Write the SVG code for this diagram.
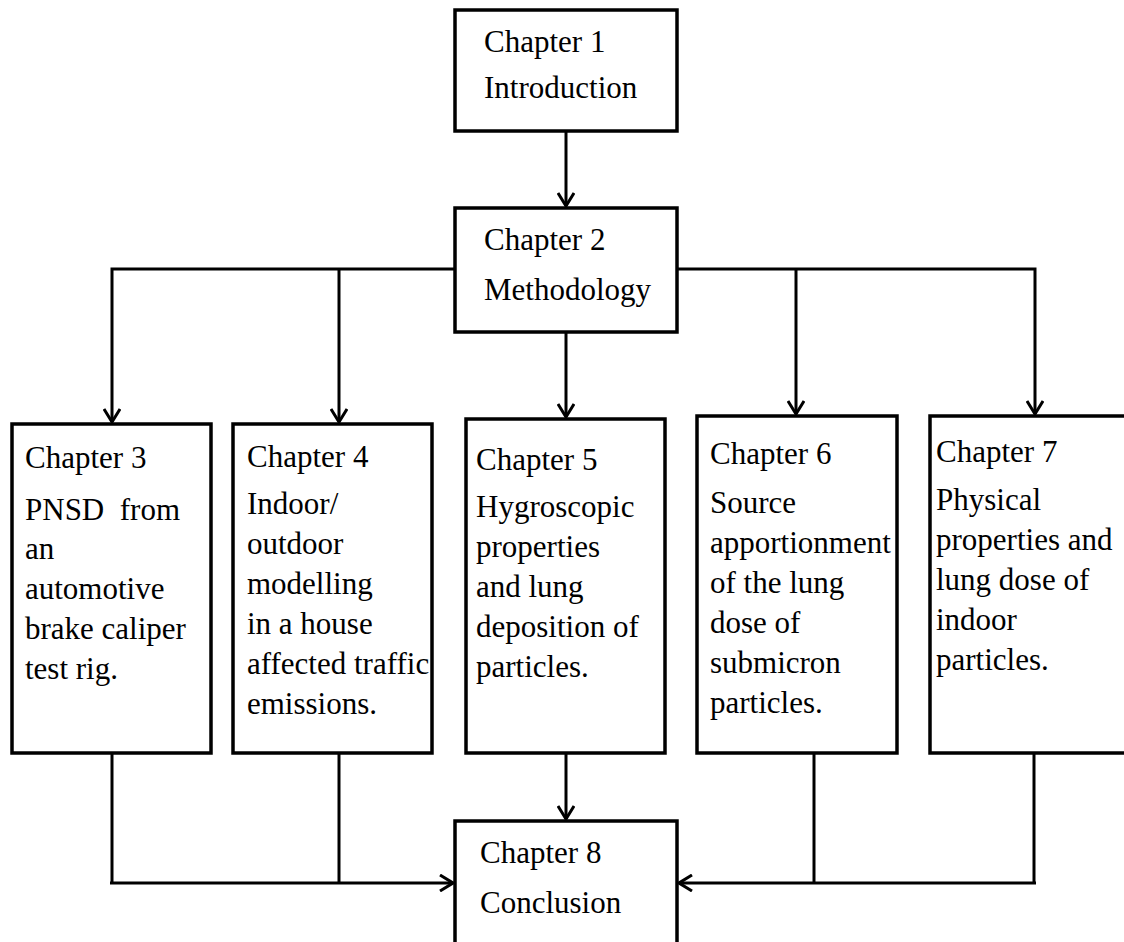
<svg xmlns="http://www.w3.org/2000/svg" width="1124" height="942" viewBox="0 0 1124 942">
<style>
.box{fill:#fff;stroke:#000;stroke-width:3.5}
.t{font-family:"Liberation Serif","Times New Roman",serif;font-size:31px;fill:#000}
.c{fill:none;stroke:#000;stroke-width:3}
</style>
<defs>
<marker id="ah" viewBox="0 0 16 18" refX="15" refY="9" markerWidth="16" markerHeight="18" markerUnits="userSpaceOnUse" orient="auto">
<path d="M2,1 L15,9 L2,17" fill="none" stroke="#000" stroke-width="3"/>
</marker>
</defs>
<rect width="1124" height="942" fill="#fff"/>
<g id="connectors">
<line class="c" x1="566" y1="131" x2="566" y2="206" stroke-width="4.5" marker-end="url(#ah)"/>
<polyline class="c" points="455,269 112,269 112,422" marker-end="url(#ah)"/>
<line class="c" x1="339" y1="269" x2="339" y2="422" marker-end="url(#ah)"/>
<line class="c" x1="566" y1="332" x2="566" y2="417" marker-end="url(#ah)"/>
<polyline class="c" points="677,269 1035,269 1035,414" marker-end="url(#ah)"/>
<line class="c" x1="796" y1="269" x2="796" y2="414" marker-end="url(#ah)"/>
<line class="c" x1="112" y1="753" x2="112" y2="883"/>
<line class="c" x1="339" y1="753" x2="339" y2="883"/>
<line class="c" x1="110" y1="883" x2="453" y2="883" stroke-width="4" marker-end="url(#ah)"/>
<line class="c" x1="566" y1="753" x2="566" y2="819" stroke-width="2.5" marker-end="url(#ah)"/>
<line class="c" x1="814" y1="753" x2="814" y2="883"/>
<line class="c" x1="1034" y1="753" x2="1034" y2="883"/>
<line class="c" x1="1036" y1="883" x2="679" y2="883" stroke-width="4" marker-end="url(#ah)"/>
</g>
<g id="ch1">
<rect class="box" x="455" y="10" width="222" height="121"/>
<text class="t" x="484" y="52">Chapter 1</text>
<text class="t" x="484" y="98">Introduction</text>
</g>
<g id="ch2">
<rect class="box" x="455" y="208" width="222" height="124"/>
<text class="t" x="484" y="250">Chapter 2</text>
<text class="t" x="484" y="300">Methodology</text>
</g>
<g id="ch3">
<rect class="box" x="12" y="424" width="199" height="329"/>
<text class="t" x="25" y="468">Chapter 3</text>
<text class="t" x="25" y="520" xml:space="preserve">PNSD  from</text>
<text class="t" x="25" y="559">an</text>
<text class="t" x="25" y="599">automotive</text>
<text class="t" x="25" y="639">brake caliper</text>
<text class="t" x="25" y="679">test rig.</text>
</g>
<g id="ch4">
<rect class="box" x="233" y="424" width="199" height="329"/>
<text class="t" x="247" y="467">Chapter 4</text>
<text class="t" x="247" y="514">Indoor/</text>
<text class="t" x="247" y="554">outdoor</text>
<text class="t" x="247" y="594">modelling</text>
<text class="t" x="247" y="634">in a house</text>
<text class="t" x="247" y="674">affected traffic</text>
<text class="t" x="247" y="714">emissions.</text>
</g>
<g id="ch5">
<rect class="box" x="466" y="419" width="199" height="334"/>
<text class="t" x="476" y="470">Chapter 5</text>
<text class="t" x="476" y="517">Hygroscopic</text>
<text class="t" x="476" y="557">properties</text>
<text class="t" x="476" y="597">and lung</text>
<text class="t" x="476" y="637">deposition of</text>
<text class="t" x="476" y="677">particles.</text>
</g>
<g id="ch6">
<rect class="box" x="697" y="416" width="200" height="337"/>
<text class="t" x="710" y="464">Chapter 6</text>
<text class="t" x="710" y="513">Source</text>
<text class="t" x="710" y="553">apportionment</text>
<text class="t" x="710" y="593">of the lung</text>
<text class="t" x="710" y="633">dose of</text>
<text class="t" x="710" y="673">submicron</text>
<text class="t" x="710" y="713">particles.</text>
</g>
<g id="ch7">
<rect class="box" x="930" y="416" width="200" height="337"/>
<text class="t" x="936" y="462">Chapter 7</text>
<text class="t" x="936" y="510">Physical</text>
<text class="t" x="936" y="550">properties and</text>
<text class="t" x="936" y="590">lung dose of</text>
<text class="t" x="936" y="630">indoor</text>
<text class="t" x="936" y="670">particles.</text>
</g>
<g id="ch8">
<rect class="box" x="455" y="821" width="222" height="125"/>
<text class="t" x="480" y="863">Chapter 8</text>
<text class="t" x="480" y="913">Conclusion</text>
</g>
</svg>
